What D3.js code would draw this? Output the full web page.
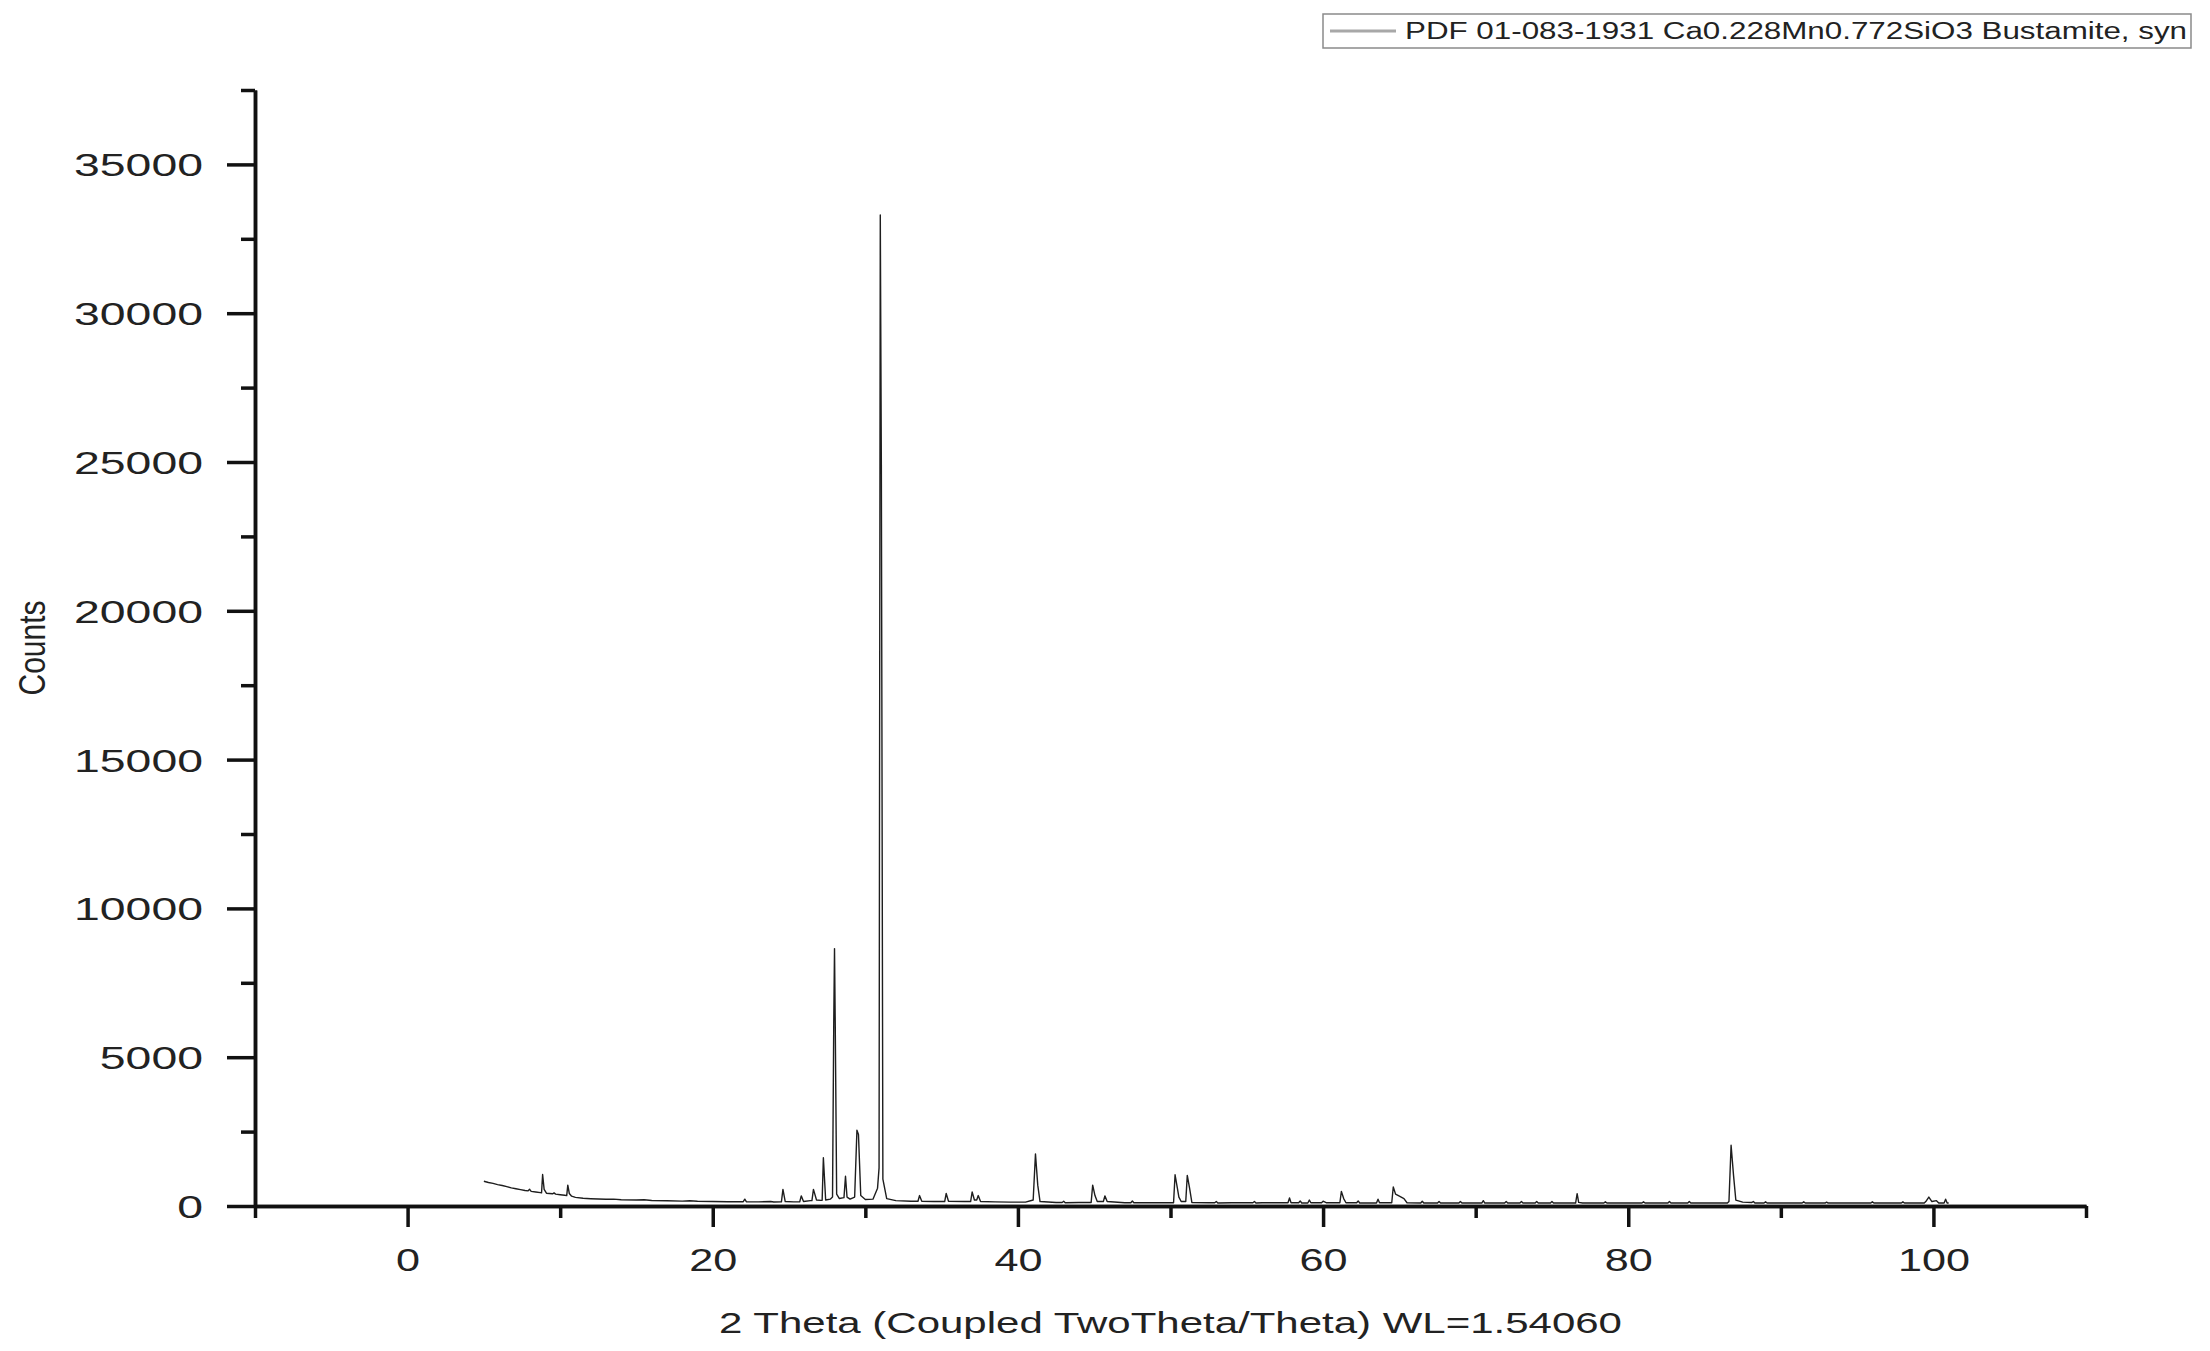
<!DOCTYPE html>
<html>
<head>
<meta charset="utf-8">
<script src="https://cdn.jsdelivr.net/npm/d3@7"></script>
<style>
  body { margin: 0; background: #fff; }
  text { font-family: "Liberation Sans", Arial, sans-serif; fill: #222; }
</style>
</head>
<body>
<div id="chart"></div>
<script>
// XRD pattern (2theta in degrees, counts)
var twoTheta = [
  5.0, 5.3, 5.6, 5.9, 6.2, 6.5, 6.8, 7.1, 7.4, 7.7,
  7.9, 8.0, 8.1, 8.4, 8.7, 8.78, 8.85, 8.95, 9.1, 9.5,
  9.6, 9.7, 10.0, 10.3, 10.43, 10.5, 10.6, 10.75, 11.0, 11.5,
  12.0, 13.0, 13.5, 14.0, 15.0, 15.5, 16.0, 17.0, 18.0, 18.5,
  19.0, 20.0, 21.0, 22.0, 22.1, 22.2, 23.0, 23.8, 24.0, 24.5,
  24.6, 24.75, 25.3, 25.7, 25.8, 25.95, 26.4, 26.5, 26.6, 26.8,
  27.1, 27.17, 27.25, 27.4, 27.7, 27.85, 27.93, 27.98, 28.03, 28.12,
  28.3, 28.6, 28.7, 28.8, 29.0, 29.3, 29.45, 29.55, 29.7, 30.0,
  30.5, 30.8, 30.9, 30.98, 31.05, 31.15, 31.4, 32.0, 33.0, 33.45,
  33.55, 33.7, 34.5, 35.2, 35.3, 35.45, 36.5, 36.9, 37.0, 37.15,
  37.3, 37.4, 37.55, 38.5, 39.5, 40.5, 41.0, 41.15, 41.3, 41.45,
  42.5, 42.9, 43.0, 43.1, 44.0, 44.8, 44.9, 45.05, 45.2, 45.6,
  45.7, 45.85, 47.0, 47.4, 47.5, 47.6, 49.0, 50.2, 50.3, 50.45,
  50.55, 50.7, 51.0, 51.1, 51.25, 51.4, 52.5, 52.9, 53.0, 53.1,
  54.0, 55.4, 55.5, 55.6, 56.0, 57.7, 57.8, 57.9, 58.4, 58.5,
  58.6, 59.0, 59.1, 59.2, 59.9, 60.0, 60.2, 61.1, 61.2, 61.35,
  61.5, 62.2, 62.3, 62.4, 63.5, 63.6, 63.7, 64.5, 64.6, 64.75,
  65.0, 65.3, 65.5, 66.4, 66.5, 66.6, 67.5, 67.6, 67.7, 68.9,
  69.0, 69.1, 70.4, 70.5, 70.6, 71.9, 72.0, 72.1, 72.9, 73.0,
  73.1, 73.9, 74.0, 74.1, 74.9, 75.0, 75.1, 76.55, 76.65, 76.75,
  77.0, 78.4, 78.5, 78.6, 80.0, 80.9, 81.0, 81.1, 82.6, 82.7,
  82.8, 83.9, 84.0, 84.1, 86.5, 86.6, 86.74, 86.9, 87.05, 87.5,
  88.1, 88.2, 88.3, 88.9, 89.0, 89.1, 90.0, 91.4, 91.5, 91.6,
  92.9, 93.0, 93.1, 95.0, 95.9, 96.0, 96.1, 97.9, 98.0, 98.1,
  99.4, 99.5, 99.7, 99.9, 100.2, 100.35, 100.7, 100.8, 100.9, 101.0
];

var counts = [
  830, 790, 760, 720, 690, 650, 610, 580, 550, 520,
  510, 560, 490, 470, 450, 440, 1060, 560, 430, 410,
  440, 400, 380, 360, 350, 700, 420, 330, 290, 260,
  245, 225, 230, 210, 200, 210, 185, 175, 165, 175,
  160, 150, 145, 145, 230, 145, 140, 150, 135, 140,
  560, 150, 140, 140, 340, 150, 180, 180, 560, 200,
  190, 190, 1620, 200, 230, 300, 6150, 8650, 6000, 400,
  250, 280, 1000, 300, 230, 300, 2550, 2400, 350, 220,
  230, 600, 1280, 33300, 24900, 900, 250, 180, 160, 160,
  350, 160, 150, 150, 420, 160, 150, 150, 470, 200,
  200, 350, 150, 140, 130, 130, 200, 1750, 700, 150,
  120, 120, 160, 110, 120, 120, 700, 350, 150, 150,
  340, 150, 110, 110, 170, 110, 110, 110, 1050, 600,
  300, 150, 150, 1030, 600, 120, 110, 110, 150, 100,
  110, 110, 150, 100, 110, 110, 270, 110, 110, 170,
  100, 100, 200, 110, 110, 160, 110, 110, 490, 250,
  110, 110, 170, 100, 100, 230, 110, 110, 640, 400,
  330, 250, 110, 100, 160, 100, 100, 150, 100, 100,
  150, 100, 100, 180, 100, 100, 150, 100, 100, 150,
  100, 100, 150, 100, 100, 150, 100, 100, 415, 120,
  100, 100, 140, 100, 100, 100, 140, 100, 100, 150,
  100, 100, 150, 100, 100, 150, 2040, 1030, 200, 130,
  120, 150, 100, 100, 140, 100, 100, 100, 140, 100,
  100, 130, 100, 100, 100, 140, 100, 100, 140, 100,
  100, 150, 300, 150, 180, 100, 100, 230, 100, 100
];

var xMajor = [0, 20, 40, 60, 80, 100];
var xMinor = [-10, 10, 30, 50, 70, 90, 110];
var yMajor = [0, 5000, 10000, 15000, 20000, 25000, 30000, 35000];
var yMinor = [2500, 7500, 12500, 17500, 22500, 27500, 32500, 37500];

var legendLabel = "PDF 01-083-1931 Ca0.228Mn0.772SiO3 Bustamite, syn";
var xTitle = "2 Theta (Coupled TwoTheta/Theta) WL=1.54060";
var yTitle = "Counts";

// Set up the chart
var svgWidth = 2210;
var svgHeight = 1351;

var margin = { top: 90, right: 124, bottom: 145, left: 255 };
var width = svgWidth - margin.left - margin.right;
var height = svgHeight - margin.top - margin.bottom;

var svg = d3.select("#chart")
  .append("svg")
  .attr("width", svgWidth)
  .attr("height", svgHeight);

var chartGroup = svg.append("g")
  .attr("transform", `translate(${margin.left}, ${margin.top})`);

// Scales
var xScale = d3.scaleLinear().domain([-10, 110]).range([0, width]);
var yScale = d3.scaleLinear().domain([0, 37500]).range([height, 0]);

var points = twoTheta.map((t, i) => [t, counts[i]]);

// Data line
var line = d3.line()
  .x(d => xScale(d[0]))
  .y(d => yScale(d[1]));

chartGroup.append("path")
  .datum(points)
  .attr("d", line)
  .attr("fill", "none")
  .attr("stroke", "#1e1e1e")
  .attr("stroke-width", 1.4)
  .attr("stroke-linejoin", "round");

// Axes: minor ticks first, then majors with labels
function styleAxis(g) {
  g.select(".domain").attr("stroke", "#111").attr("stroke-width", 3.5);
  g.selectAll(".tick line").attr("stroke", "#111").attr("stroke-width", 3.5);
}

var xMinorG = chartGroup.append("g")
  .attr("transform", `translate(0, ${height})`)
  .call(d3.axisBottom(xScale).tickValues(xMinor).tickSize(12).tickSizeOuter(0).tickFormat(""));
xMinorG.call(styleAxis);

var xMajorG = chartGroup.append("g")
  .attr("transform", `translate(0, ${height})`)
  .call(d3.axisBottom(xScale).tickValues(xMajor).tickSize(21).tickSizeOuter(0).tickFormat(d3.format("d")));
xMajorG.call(styleAxis);
xMajorG.selectAll("text")
  .attr("y", null)
  .attr("dy", null)
  .attr("transform", "translate(0, 65) scale(1.35, 1)")
  .style("font-size", "32px")
  .style("fill", "#222");

var yMinorG = chartGroup.append("g")
  .call(d3.axisLeft(yScale).tickValues(yMinor).tickSize(14).tickSizeOuter(0).tickFormat(""));
yMinorG.call(styleAxis);

var yMajorG = chartGroup.append("g")
  .call(d3.axisLeft(yScale).tickValues(yMajor).tickSize(28).tickSizeOuter(0).tickFormat(d3.format("d")));
yMajorG.call(styleAxis);
yMajorG.selectAll("text")
  .attr("x", null)
  .attr("dy", "0.36em")
  .attr("text-anchor", "end")
  .attr("transform", "translate(-52, 0) scale(1.45, 1)")
  .style("font-size", "32px")
  .style("fill", "#222");

// Axis titles
svg.append("text")
  .attr("transform", `translate(${margin.left + width / 2}, 1333) scale(1.4, 1)`)
  .attr("text-anchor", "middle")
  .style("font-size", "30px")
  .text(xTitle);

svg.append("text")
  .attr("transform", `translate(45, ${margin.top + height / 2}) scale(1.25, 1) rotate(-90)`)
  .attr("text-anchor", "middle")
  .style("font-size", "30px")
  .text(yTitle);

// Legend
var legend = svg.append("g");
legend.append("rect")
  .attr("x", 1323).attr("y", 14)
  .attr("width", 868).attr("height", 34)
  .attr("fill", "#fff")
  .attr("stroke", "#8a8a8a")
  .attr("stroke-width", 1.5);
legend.append("line")
  .attr("x1", 1330).attr("x2", 1396)
  .attr("y1", 31).attr("y2", 31)
  .attr("stroke", "#a8a8a8")
  .attr("stroke-width", 3);
legend.append("text")
  .attr("x", 1405).attr("y", 39)
  .attr("textLength", 782)
  .attr("lengthAdjust", "spacingAndGlyphs")
  .style("font-size", "23px")
  .text(legendLabel);
</script>
</body>
</html>
